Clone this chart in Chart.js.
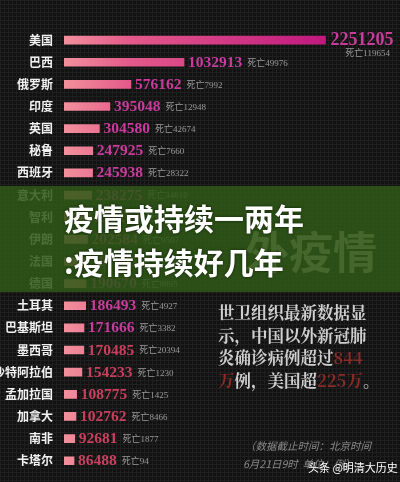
<!DOCTYPE html>
<html><head><meta charset="utf-8">
<script src="https://cdn.jsdelivr.net/npm/chart.js@4/dist/chart.umd.min.js"></script>
<style>html,body{margin:0;padding:0;background:#111;}#w{width:400px;height:482px;}</style>
</head><body><div id="w"><canvas id="c"></canvas></div>
<script>
const countries = ["美国","巴西","俄罗斯","印度","英国","秘鲁","西班牙","意大利","智利","伊朗","法国","德国","土耳其","巴基斯坦","墨西哥","沙特阿拉伯","孟加拉国","加拿大","南非","卡塔尔"];
const cases = [2251205,1032913,576162,395048,304580,247925,245938,238275,225103,202584,197885,190670,186493,171666,170485,154233,108775,102762,92681,86488];
const deaths = [119654,49976,7992,12948,42674,7660,28322,34610,12987,9507,29640,8895,4927,3382,20394,1230,1425,8466,1877,94];

const SANS = '"Noto Sans CJK SC", sans-serif';
const deco = {
  id:'deco',
  beforeDraw(ch){
    const c=ch.ctx; c.save();
    c.fillStyle='#121212'; c.fillRect(0,0,400,482);
    c.strokeStyle='#1f1f1f'; c.lineWidth=1;
    for(let x=0.5;x<400;x+=4){c.beginPath();c.moveTo(x,0);c.lineTo(x,482);c.stroke();}
    for(let y=0.5;y<482;y+=4){c.beginPath();c.moveTo(0,y);c.lineTo(400,y);c.stroke();}
    c.restore();
  },
  afterDatasetsDraw(ch){
    const c=ch.ctx, meta=ch.getDatasetMeta(0); c.save();
    c.textBaseline='middle';
    meta.data.forEach((b,i)=>{
      const big = i===0 ? 18 : 15.5;
      const x0 = b.x+(i===0?5:4);
      c.font = 'bold '+big+'px "Liberation Serif", serif';
      c.fillStyle = i<14 ? '#c93c9c' : '#c8405e';
      const t = String(cases[i]);
      c.textAlign='left';
      c.fillText(t, x0, b.y+0.5);
      const w = c.measureText(t).width;
      c.font = '9px "Liberation Serif", '+SANS; c.fillStyle='#9a9a9a';
      if(i===0){ c.textAlign='right'; c.fillText('死亡'+deaths[i], 390, b.y+14); }
      else c.fillText('死亡'+deaths[i], x0+w+5, b.y+1);
    });
    c.fillStyle='rgba(46,88,22,0.86)'; c.fillRect(0,186,400,106);
    c.fillStyle='rgba(120,150,90,0.35)'; c.font='bold 44px '+SANS; c.textAlign='left';
    c.fillText('外疫情', 245, 252);
    c.fillStyle='#ffffff'; c.font='bold 30px '+SANS;
    c.shadowColor='rgba(0,0,0,0.6)'; c.shadowBlur=3;
    c.fillText('疫情或持续一两年', 64, 219);
    c.fillText(':疫情持续好几年', 64, 263);
    c.shadowBlur=0;
    c.font='bold 16.5px "Noto Serif CJK SC", "DejaVu Serif", '+SANS;
    const lines=[[['世卫组织最新数据显','#cfcfcf']],[['示，中国以外新冠肺','#cfcfcf']],[['炎确诊病例超过','#cfcfcf'],['844','#8a2b28']],[['万','#8a2b28'],['例，美国超','#cfcfcf'],['225万','#8a2b28'],['。','#cfcfcf']]];
    lines.forEach((ln,k)=>{ let x=218; ln.forEach(([s,col])=>{c.fillStyle=col;c.fillText(s,x,313+k*22.5);x+=c.measureText(s).width;}); });
    c.font='italic 10.5px '+SANS; c.fillStyle='#8a8a8a';
    c.fillText('（数据截止时间：北京时间', 245, 446);
    c.fillText('6月21日9时  单位：例）', 243, 464);
    c.font='11px '+SANS; c.fillStyle='#ffffff';
    c.fillText('头条 @明清大历史', 308, 468);
    c.restore();
  }
};

new Chart(document.getElementById('c'),{
  type:'bar',
  data:{labels:countries,datasets:[{data:cases,barThickness:8,borderWidth:0,
    backgroundColor(ctx){
      const ch=ctx.chart, a=ch.chartArea; if(!a) return '#f07a8a';
      const g=ch.ctx.createLinearGradient(a.left,0,a.left+262,0);
      g.addColorStop(0,'#f2909c'); g.addColorStop(0.25,'#e45a8a'); g.addColorStop(1,'#c0187e');
      return g;
    }}]},
  options:{indexAxis:'y',responsive:true,maintainAspectRatio:false,animation:false,
    layout:{padding:{top:29,bottom:9,right:34,left:0}},
    plugins:{legend:{display:false},tooltip:{enabled:false}},
    scales:{
      x:{min:0,max:2600000,display:false,grid:{display:false}},
      y:{grid:{display:false},border:{display:false},
        afterFit(s){s.width=64;},
        ticks:{color:'#f2f2f2',padding:3,font:{family:SANS,size:12,weight:'bold'}}}
    }},
  plugins:[deco]
});
</script></body></html>
